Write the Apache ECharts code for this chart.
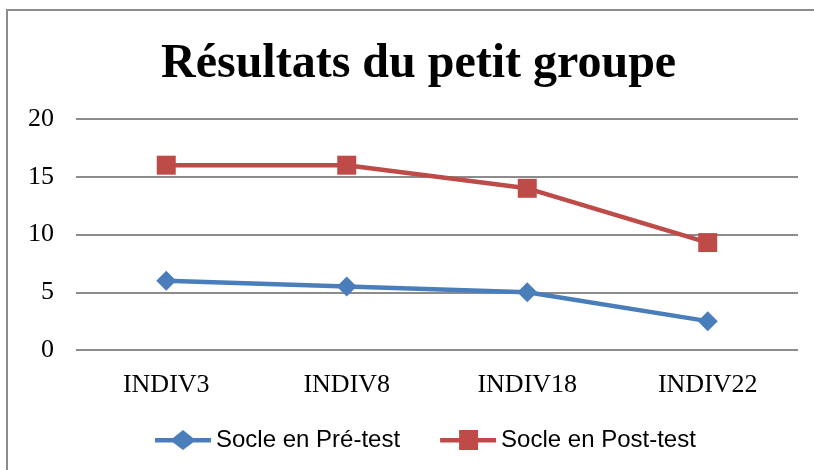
<!DOCTYPE html>
<html><head><meta charset="utf-8">
<script src="https://cdn.jsdelivr.net/npm/echarts@6/dist/echarts.min.js"></script>
<style>html,body{margin:0;padding:0;background:#fff}#c{width:814px;height:470px}</style>
</head><body><div id="c"></div>
<script>
const categories = ['INDIV3', 'INDIV8', 'INDIV18', 'INDIV22'];
const preTest = [6, 5.5, 5, 2.5];
const postTest = [16, 16, 14, 9.3];
const seriesNames = ['Socle en Pré-test', 'Socle en Post-test'];
const diamondIcon = 'path://M0,8 L18,8 L28,0 L38,8 L56,8 L56,12.5 L38,12.5 L28,20 L18,12.5 L0,12.5 Z';
const squareIcon = 'path://M0,8 L19,8 L19,0 L38,0 L38,8 L56,8 L56,12.5 L38,12.5 L38,20 L19,20 L19,12.5 L0,12.5 Z';
const chart = echarts.init(document.getElementById('c'));
chart.setOption({
  animation: false,
  title: { text: 'Résultats du petit groupe', left: 156, top: 36,
    textStyle: { fontFamily: 'Liberation Serif', fontWeight: 'bold', fontSize: 48, color: '#000' } },
  graphic: [{ type: 'rect', shape: { x: 7, y: 10, width: 830, height: 480 }, style: { fill: 'none', stroke: '#8c8c8c', lineWidth: 2 }, silent: true }],
  grid: { left: 76, right: 16, top: 119, bottom: 120 },
  legend: { top: 428, left: 155, padding: 0, itemGap: 40, itemWidth: 56, itemHeight: 20,
    textStyle: { fontFamily: 'Liberation Sans', fontSize: 24, color: '#000' },
    data: [{ name: seriesNames[0], icon: diamondIcon }, { name: seriesNames[1], icon: squareIcon }] },
  xAxis: { type: 'category', data: categories, boundaryGap: true,
    axisLine: { show: false }, axisTick: { show: false },
    axisLabel: { fontFamily: 'Liberation Serif', fontSize: 26, color: '#000', margin: 22 } },
  yAxis: { type: 'value', min: 0, max: 20, interval: 5,
    axisLine: { show: false }, axisTick: { show: false },
    axisLabel: { fontFamily: 'Liberation Serif', fontSize: 26, color: '#000', margin: 22 },
    splitLine: { lineStyle: { color: '#8c8c8c', width: 2 } } },
  series: [
    { name: seriesNames[0], type: 'line', data: preTest, symbol: 'diamond', symbolSize: 20,
      lineStyle: { color: '#4a7ebb', width: 4.5 }, itemStyle: { color: '#4a7ebb' } },
    { name: seriesNames[1], type: 'line', data: postTest, symbol: 'rect', symbolSize: 19,
      lineStyle: { color: '#be4b48', width: 4.5 }, itemStyle: { color: '#be4b48' } }
  ]
});
</script></body></html>
